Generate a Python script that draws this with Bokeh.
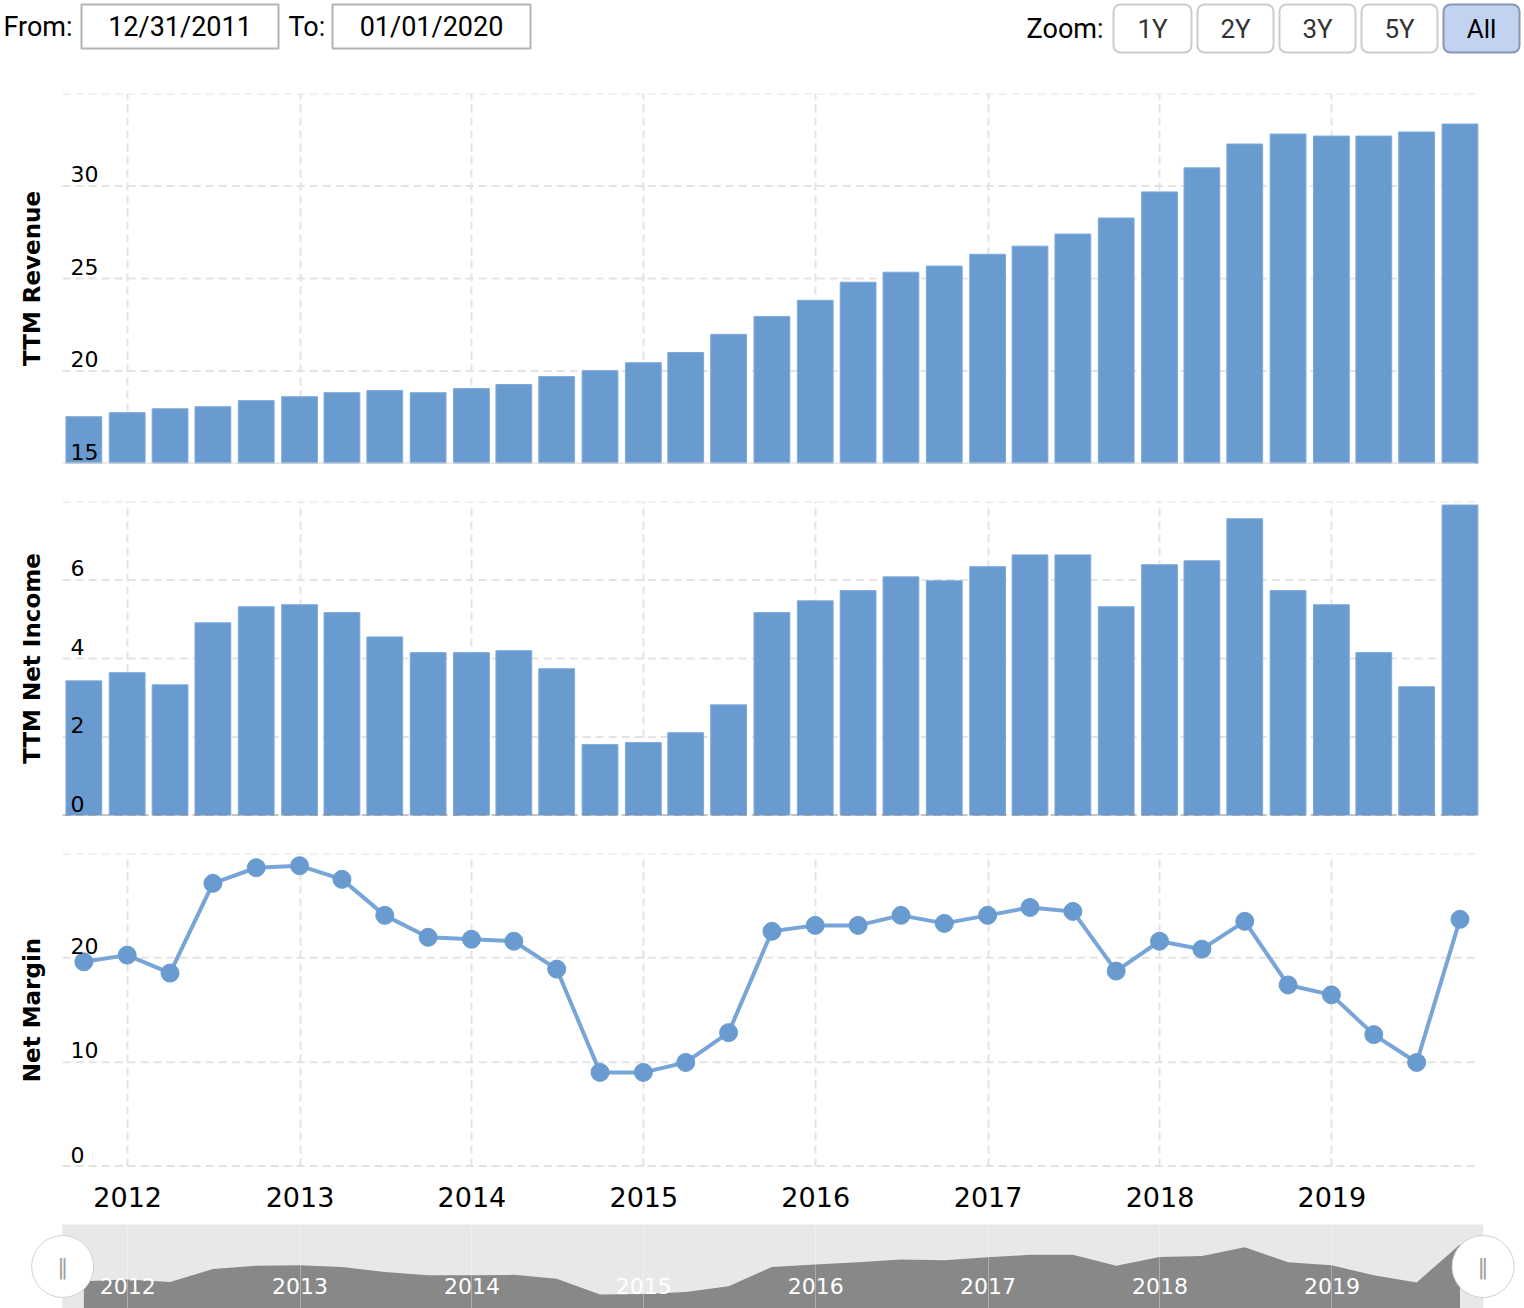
import math
import pandas as pd
from bokeh.plotting import figure
from bokeh.models import Range1d, FixedTicker, Grid, BoxAnnotation
from bokeh.layouts import column
from bokeh.embed import file_html
from bokeh.resources import INLINE
from bokeh.core.properties import value

# ---------------- data ----------------
quarters = ["2011-09-30", "2011-12-31", "2012-03-31", "2012-06-30", "2012-09-30", "2012-12-31",
            "2013-03-31", "2013-06-30", "2013-09-30", "2013-12-31", "2014-03-31", "2014-06-30",
            "2014-09-30", "2014-12-31", "2015-03-31", "2015-06-30", "2015-09-30", "2015-12-31",
            "2016-03-31", "2016-06-30", "2016-09-30", "2016-12-31", "2017-03-31", "2017-06-30",
            "2017-09-30", "2017-12-31", "2018-03-31", "2018-06-30", "2018-09-30", "2018-12-31",
            "2019-03-31", "2019-06-30", "2019-09-30"]
ttm_revenue = [17.53, 17.75, 17.96, 18.07, 18.40, 18.61, 18.83, 18.94, 18.83, 19.05, 19.27, 19.70,
               20.02, 20.45, 21.00, 21.98, 22.95, 23.82, 24.80, 25.34, 25.67, 26.31, 26.75, 27.40,
               28.27, 29.68, 30.98, 32.27, 32.81, 32.70, 32.70, 32.92, 33.35]
ttm_net_income = [3.43, 3.64, 3.33, 4.91, 5.32, 5.37, 5.17, 4.55, 4.15, 4.15, 4.20, 3.74, 1.81,
                  1.86, 2.11, 2.82, 5.17, 5.47, 5.73, 6.08, 5.98, 6.34, 6.64, 6.64, 5.32, 6.39,
                  6.49, 7.56, 5.73, 5.37, 4.15, 3.28, 7.91]
net_margin = [19.62, 20.26, 18.54, 27.14, 28.64, 28.83, 27.52, 24.07, 21.97, 21.78, 21.59, 18.92,
              9.02, 9.02, 9.97, 12.83, 22.54, 23.11, 23.11, 24.07, 23.30, 24.07, 24.83, 24.45,
              18.73, 21.59, 20.83, 23.50, 17.40, 16.45, 12.64, 9.97, 23.69]

year_dates = ["2012-01-01", "2013-01-01", "2014-01-01", "2015-01-01", "2016-01-01",
              "2017-01-01", "2018-01-01", "2019-01-01"]
year_labels = ["2012", "2013", "2014", "2015", "2016", "2017", "2018", "2019"]

revenue_grid = [20, 25, 30, 35]
revenue_ticks = [15, 20, 25, 30]
income_grid = [2, 4, 6, 8]
income_ticks = [0, 2, 4, 6]
margin_grid = [10, 20, 30]
margin_ticks = [0, 10, 20]

# ---------------- helpers ----------------
def ms(s):
    return pd.Timestamp(s).value / 1e6

dates = pd.to_datetime(quarters)
year_ms = [ms(d) for d in year_dates]
DAY = 86400000.0

# full page width time window, and the plotted window inside it
X_LEFT, X_RIGHT = ms("2011-04-06"), ms("2020-02-14")
X_START, X_END = ms("2011-08-16"), ms("2019-11-01")
NAV_BG_L, NAV_BG_R = ms("2011-08-16"), ms("2019-11-18")

W = 1524
BAR = "#6a9bd0"
GRID = "#e3e3e3"
FONT = "DejaVu Sans"


def strip_grids(p):
    p.center = [r for r in p.center if not isinstance(r, Grid)]


def hlines(p, vals, color, dash, level):
    n = len(vals)
    p.segment(x0=[X_START] * n, x1=[X_END] * n, y0=vals, y1=vals, line_color=color,
              line_width=2, line_dash=dash, level=level)


def panel(height, top, bottom, yr, label, grid_vals, show_x=False):
    p = figure(width=W, height=height, x_axis_type="datetime",
               x_range=Range1d(X_LEFT, X_RIGHT), y_range=yr,
               x_axis_location="below" if show_x else None, y_axis_location=None,
               output_backend="svg", toolbar_location=None,
               min_border_left=0, min_border_right=0,
               min_border_top=top, min_border_bottom=bottom,
               outline_line_color=None, background_fill_color="white")
    strip_grids(p)
    p.add_layout(Grid(dimension=0, ticker=FixedTicker(ticks=year_ms), grid_line_color=GRID,
                      grid_line_width=2, grid_line_dash="8 5"))
    hlines(p, grid_vals, GRID, "8 5", "underlay")
    mid = (yr.start + yr.end) / 2
    p.text(x=[X_LEFT], y=[mid], text=[label], x_offset=31, angle=math.pi / 2,
           text_align="center", text_baseline="middle", text_font=value(FONT),
           text_font_style="bold", text_font_size="23px", text_color="black")
    return p


def tick_labels(p, ticks):
    p.text(x=[X_LEFT] * len(ticks), y=ticks, text=[str(t) for t in ticks],
           x_offset=70, y_offset=-12, text_align="left", text_baseline="middle",
           text_font=value(FONT), text_font_size="22px", text_color="black")


# ---------------- header ----------------
hdr = figure(width=W, height=72, x_range=Range1d(0, W), y_range=Range1d(72, 0),
             x_axis_location=None, y_axis_location=None, output_backend="svg",
             toolbar_location=None, min_border=0, outline_line_color=None)
strip_grids(hdr)
hdr.quad(left=[81, 332], right=[278, 530], top=[4, 4], bottom=[48, 48],
         fill_color="white", line_color="#b3b3b3", line_width=2)
hdr.text(x=[3, 288], y=[26, 26], text=["From:", "To:"], text_align="left",
         text_baseline="middle", text_font=value("Roboto"), text_font_size="27px",
         text_color="black")
hdr.text(x=[179.5, 431], y=[26, 26], text=["12/31/2011", "01/01/2020"], text_align="center",
         text_baseline="middle", text_font=value("Roboto"), text_font_size="27px",
         text_color="black")
hdr.text(x=[1103], y=[28], text=["Zoom:"], text_align="right", text_baseline="middle",
         text_font=value("Roboto"), text_font_size="27px", text_color="black")
btn_l = [1113, 1197, 1279, 1361, 1443]
btn_r = [1191, 1273, 1355, 1437, 1519]
btn_txt = ["1Y", "2Y", "3Y", "5Y", "All"]
hdr.quad(left=btn_l[:4], right=btn_r[:4], top=[4] * 4, bottom=[52] * 4,
         fill_color="white", line_color="#cccccc", line_width=2, border_radius=7)
hdr.quad(left=btn_l[4:], right=btn_r[4:], top=[4], bottom=[52],
         fill_color="#c2d3f2", line_color="#8797b5", line_width=2, border_radius=7)
hdr.text(x=[(a + b) / 2 for a, b in zip(btn_l, btn_r)], y=[28] * 5, text=btn_txt,
         text_align="center", text_baseline="middle", text_font=value("Roboto"),
         text_font_size="26px", text_color=["#333333"] * 4 + ["#000000"])

# ---------------- revenue ----------------
p1 = panel(410, 21, 19, Range1d(15, 35), "TTM Revenue", revenue_grid)
p1.vbar(x=dates, top=ttm_revenue, bottom=0, width=76 * DAY, fill_color=BAR,
        line_color="#7eaadb", line_width=1)
hlines(p1, [15], "#d6d6d6", "solid", "glyph")
tick_labels(p1, revenue_ticks)

# ---------------- net income ----------------
p2 = panel(352, 19, 19, Range1d(0, 8), "TTM Net Income", income_grid)
p2.vbar(x=dates, top=ttm_net_income, bottom=0, width=76 * DAY, fill_color=BAR,
        line_color="#7eaadb", line_width=1)
hlines(p2, [0], "#8a8a8a", "8 5", "glyph")
tick_labels(p2, income_ticks)

# ---------------- net margin ----------------
p3 = panel(390, 19, 58, Range1d(0, 30), "Net Margin", margin_grid, show_x=True)
hlines(p3, [0], "#c4c4c4", "8 5", "underlay")
p3.line(x=dates, y=net_margin, line_width=4, line_color="#77a5d8")
p3.scatter(x=dates, y=net_margin, size=18, fill_color=BAR, line_color=BAR)
tick_labels(p3, margin_ticks)
xa = p3.xaxis[0]
xa.ticker = FixedTicker(ticks=year_ms)
xa.major_label_overrides = {t: lab for t, lab in zip(year_ms, year_labels)}
xa.axis_line_color = None
xa.major_tick_line_color = None
xa.minor_tick_line_color = None
xa.major_tick_out = 0
xa.major_label_standoff = 20
xa.major_label_text_font = FONT
xa.major_label_text_font_size = "27px"
xa.major_label_text_color = "black"

# ---------------- navigator ----------------
NAV_Y0, NAV_Y1 = 0.1, 10.34
nav = figure(width=W, height=84, x_axis_type="datetime",
             x_range=Range1d(X_LEFT, X_RIGHT), y_range=Range1d(NAV_Y0, NAV_Y1),
             x_axis_location=None, y_axis_location=None, output_backend="svg",
             toolbar_location=None, min_border=0, outline_line_color=None)
strip_grids(nav)
nav.add_layout(BoxAnnotation(left=NAV_BG_L, right=NAV_BG_R, fill_color="#e8e8e8",
                             fill_alpha=1, line_color="#d4d4d4", line_width=1,
                             level="underlay"))
nav.varea(x=dates, y1=[0] * len(quarters), y2=ttm_net_income, fill_color="#888888")
nav.add_layout(Grid(dimension=0, ticker=FixedTicker(ticks=year_ms), grid_line_color="white",
                    grid_line_alpha=0.3, grid_line_width=1, level="annotation"))
nav.text(x=year_ms, y=[NAV_Y0] * len(year_ms), text=year_labels, y_offset=-23,
         text_align="center", text_baseline="middle", text_font=value(FONT),
         text_font_size="22px", text_color="white")
hx = [NAV_BG_L, NAV_BG_R]
hy = [5.22, 5.22]
nav.scatter(x=hx, y=hy, size=62, marker="circle", fill_color="white",
            line_color="#d0d0d0", line_width=1)
nav.text(x=hx, y=hy, text=["\u2016", "\u2016"], text_align="center", text_baseline="middle",
         text_font=value(FONT), text_font_size="22px", text_color="#a0a0a0")

layout = column(hdr, p1, p2, p3, nav, spacing=0)
open("out.html", "w").write(file_html(layout, INLINE))
